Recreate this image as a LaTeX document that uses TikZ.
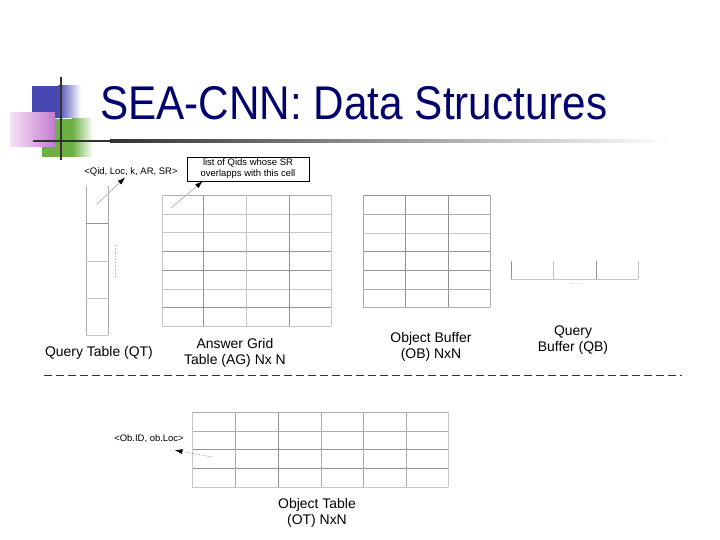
\documentclass[tikz,border=0pt]{standalone}
\usepackage{fontspec}
\setmainfont{Liberation Sans}
\usetikzlibrary{arrows.meta,calc}
\definecolor{titleblue}{RGB}{0,0,110}
\definecolor{sqblue}{RGB}{72,72,178}
\definecolor{sqgreen}{RGB}{108,176,68}
\definecolor{pinkL}{RGB}{246,228,246}
\definecolor{pinkR}{RGB}{196,122,206}
\definecolor{barline}{RGB}{50,50,50}
\tikzset{
  gl/.style={draw=gray!45, line width=0.6bp},
  gm/.style={draw=gray!65, line width=0.6bp},
  gd/.style={draw=gray!85, line width=0.7bp},
  lbl/.style={font=\fontsize{14}{16}\selectfont, align=center, inner sep=0pt},
  small/.style={font=\fontsize{9.5}{11}\selectfont, align=center, inner sep=1bp},
  arr/.style={draw=gray!75, line width=0.5bp, -{Latex[length=7.5bp,width=5bp,color=black]}},
  arrd/.style={draw=gray!75, line width=0.5bp, dash pattern=on 2bp off 1bp, -{Latex[length=7.5bp,width=5bp,color=black]}},
}
\begin{document}
\begin{tikzpicture}[x=1bp,y=-1bp]
\useasboundingbox (0,0) rectangle (720,540);
% ---- title decoration
\fill[sqgreen] (42,119) rectangle (72,157);
\shade[left color=sqgreen, right color=white] (72,119) rectangle (93,157);
\fill[sqblue] (32,86) rectangle (58,118);
\shade[left color=sqblue, right color=white] (58,86) rectangle (81,118);
\shade[left color=pinkL, right color=pinkR] (10,113) rectangle (55,147);
\fill[barline] (33,140) rectangle (110,142.5);
\shade[left color=barline, right color=white] (110,140) rectangle (670,142.5);
\draw[barline, line width=2.5bp] (61,77) -- (61,160);
% ---- title
\node[anchor=base west, inner sep=0pt, text=titleblue, font=\fontsize{42}{50}\selectfont] (title) at (100,120) {\scalebox{1.01}[1.13]{SEA-CNN: Data Structures}};

% ---- Query Table (QT)
\draw[gm] (86,186) -- (86,335);
\draw[gm] (108,186) -- (108,335);
\draw[gd] (86,223) -- (108,223);
\draw[gl] (86,261) -- (108,261);
\draw[gl] (86,298) -- (108,298);
\draw[gl] (86,335) -- (108,335);
\draw[gray!70, line width=0.8bp, dotted] (115,245) -- (115,278);
\coordinate (qtcell) at (97,204);
\node[small] (qtlabel) at (131,172) {<Qid, Loc, k, AR, SR>};
\draw[arr] (qtcell) -- (qtlabel);
\node[lbl] (qtname) at (99,353) {Query Table (QT)};

% ---- Answer Grid (AG)
\foreach \y/\s in {195/gm,214/gl,232/gl,251/gd,270/gd,289/gl,307/gd,326/gl}
  \draw[\s] (162,\y) -- (331,\y);
\foreach \x/\s in {162/gl,203/gd,246/gl,289/gd,331/gl}
  \draw[\s] (\x,195) -- (\x,326);
\node[draw=black, line width=0.6bp, small, minimum width=122bp, minimum height=24bp] (listbox) at (248,169)
  {list of Qids whose SR\\overlapps with this cell};
\coordinate (agcell) at (171,208);
\draw[arr] (agcell) -- ($(listbox.south west)!0.13!(listbox.south east)$);
\node[lbl] (agname) at (235,352.5) {Answer Grid\\Table (AG) Nx N};

% ---- Object Buffer (OB)
\foreach \y/\s in {195/gd,214/gm,233/gl,251/gd,270/gd,289/gm,307/gm}
  \draw[\s] (363,\y) -- (490,\y);
\foreach \x/\s in {363/gm,405/gd,448/gd,490/gm}
  \draw[\s] (\x,195) -- (\x,307);
\node[lbl] (obname) at (431,346.5) {Object Buffer\\(OB) NxN};

% ---- Query Buffer (QB)
\draw[gl] (511,279) -- (638,279);
\draw[gd] (511,261) -- (511,279);
\draw[gl] (553,261) -- (553,279);
\draw[gd] (596,261) -- (596,279);
\draw[gl] (638,261) -- (638,279);
\node[inner sep=0pt, text=gray!70, font=\fontsize{7}{7}\selectfont] (qbdots) at (575,284) {... ...};
\node[lbl] (qbname) at (573,340) {Query\\Buffer (QB)};

% ---- separator
\coordinate (sepL) at (44,375);
\coordinate (sepR) at (682,375);
\draw[black!80, line width=0.9bp, dash pattern=on 8bp off 4bp] (sepL) -- (sepR);

% ---- Object Table (OT)
\foreach \y/\s in {412/gm,431/gm,449/gd,468/gd,487/gl}
  \draw[\s] (192,\y) -- (448,\y);
\foreach \x/\s in {192/gl,235/gm,278/gd,321/gm,363/gm,406/gm,448/gl}
  \draw[\s] (\x,412) -- (\x,487);
\node[small] (otlabel) at (149,439) {<Ob.ID, ob.Loc>};
\coordinate (otcell) at (212,457);
\draw[arrd] (otcell) -- ([xshift=-10bp,yshift=-6bp]otlabel.south east);
\node[lbl] (otname) at (317,513) {Object Table\\(OT) NxN};
\end{tikzpicture}
\end{document}
